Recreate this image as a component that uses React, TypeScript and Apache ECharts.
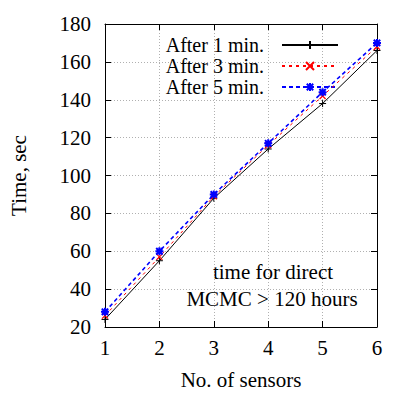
import React, { useEffect, useRef } from "react";
import * as echarts from "echarts";

const sensors = ["1", "2", "3", "4", "5", "6"];
const after1 = [24, 55, 88, 114, 138, 166];
const after3 = [26, 57, 89, 116, 142, 168];
const after5 = [28, 60, 90, 117, 144, 170];
const seriesNames = ["After 1 min.", "After 3 min.", "After 5 min."];
const noteLines = ["time for direct", "MCMC > 120 hours"];

const FONT = "'Liberation Serif', 'DejaVu Serif', serif";
const FS = 21;

export default function App() {
  const ref = useRef<HTMLDivElement>(null);
  useEffect(() => {
    if (!ref.current) return;
    const chart = echarts.init(ref.current, null, { renderer: "svg" });
    const xData = sensors.map((s) => Number(s));
    const mk = (arr: number[]) => arr.map((v, i) => [xData[i], v]);
    const plusPath = "path://M0,5L10,5M5,0L5,10";
    const crossPath = "path://M0,0L10,10M0,10L10,0";
    const starPath = "path://M0,5L10,5M5,0L5,10M1,1L9,9M1,9L9,1";
    const gridDotted = { show: true, lineStyle: { color: "#b0b0b0", type: [1, 2], width: 1 } };
    chart.setOption({
      animation: false,
      textStyle: { fontFamily: FONT },
      grid: { left: 103, right: 38, top: 24, bottom: 68 },
      legend: {
        orient: "vertical",
        align: "right",
        right: 71,
        top: 30,
        itemWidth: 56,
        itemHeight: 10,
        itemGap: 1,
        textStyle: { fontFamily: FONT, fontSize: 20, color: "#000", lineHeight: 20, padding: [0, 13, 0, 0] },
        data: seriesNames,
      },
      xAxis: [
        {
          type: "value",
          min: 1,
          max: 6,
          interval: 1,
          name: "No. of sensors",
          nameLocation: "middle",
          nameGap: 42,
          nameTextStyle: { fontFamily: FONT, fontSize: FS, color: "#000" },
          axisLine: { lineStyle: { color: "#000", width: 1 } },
          axisTick: { inside: true, length: 6, lineStyle: { color: "#000" } },
          axisLabel: { fontFamily: FONT, fontSize: FS, color: "#000", margin: 10 },
          splitLine: gridDotted,
        },
        {
          type: "value",
          position: "top",
          min: 1,
          max: 6,
          interval: 1,
          axisLine: { show: true, lineStyle: { color: "#000", width: 1 } },
          axisTick: { show: true, inside: true, length: 6, lineStyle: { color: "#000" } },
          axisLabel: { show: false },
          splitLine: { show: false },
        },
      ],
      yAxis: [
        {
          type: "value",
          min: 20,
          max: 180,
          interval: 20,
          name: "Time, sec",
          nameLocation: "middle",
          nameGap: 76,
          nameTextStyle: { fontFamily: FONT, fontSize: FS, color: "#000" },
          axisLine: { show: true, lineStyle: { color: "#000", width: 1 } },
          axisTick: { show: true, inside: true, length: 6, lineStyle: { color: "#000" } },
          axisLabel: { fontFamily: FONT, fontSize: FS, color: "#000", margin: 14 },
          splitLine: gridDotted,
        },
        {
          type: "value",
          position: "right",
          min: 20,
          max: 180,
          interval: 20,
          axisLine: { show: true, lineStyle: { color: "#000", width: 1 } },
          axisTick: { show: true, inside: true, length: 6, lineStyle: { color: "#000" } },
          axisLabel: { show: false },
          splitLine: { show: false },
        },
      ],
      graphic: [
        {
          type: "text",
          x: 273,
          y: 272,
          style: { text: noteLines[0], font: `${FS}px ${FONT}`, fill: "#000", align: "center", verticalAlign: "middle" },
        },
        {
          type: "text",
          x: 272,
          y: 299,
          style: { text: noteLines[1], font: `${FS}px ${FONT}`, fill: "#000", align: "center", verticalAlign: "middle" },
        },
      ],
      series: [
        {
          name: seriesNames[0],
          type: "line",
          data: mk(after1),
          symbol: plusPath,
          symbolSize: 7,
          lineStyle: { color: "#000", width: 1 },
          itemStyle: { color: "#000", borderColor: "#000", borderWidth: 1 },
          z: 3,
        },
        {
          name: seriesNames[1],
          type: "line",
          data: mk(after3),
          symbol: crossPath,
          symbolSize: 6,
          lineStyle: { color: "#ff0000", width: 1, type: [3, 4] },
          itemStyle: { color: "#ff0000", borderColor: "#ff0000", borderWidth: 1.2 },
          z: 4,
        },
        {
          name: seriesNames[2],
          type: "line",
          data: mk(after5),
          symbol: starPath,
          symbolSize: 8,
          lineStyle: { color: "#0000ff", width: 1.6, type: [4, 3] },
          itemStyle: { color: "#0000ff", borderColor: "#0000ff", borderWidth: 2 },
          z: 5,
        },
      ],
    });
    return () => chart.dispose();
  }, []);
  return <div ref={ref} style={{ width: 415, height: 395, margin: -8 }} />;
}
